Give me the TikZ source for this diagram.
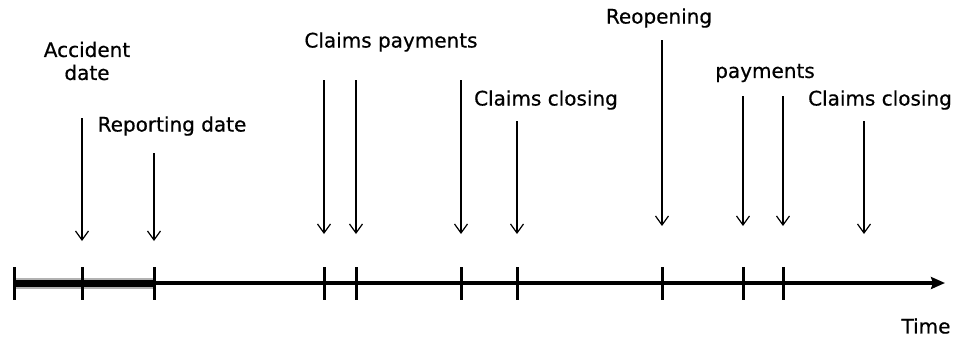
\documentclass[tikz,border=0pt]{standalone}
\usepackage{fontspec}
\setmainfont{DejaVu Sans}
\newfontfamily\lblfont{DejaVu Sans}[FakeBold=0.6]
\usetikzlibrary{arrows.meta}
\begin{document}
\begin{tikzpicture}[x=1pt,y=-1pt,
  lbl/.style={inner sep=0pt,font=\lblfont\fontsize{20}{24}\selectfont,align=center},
  evarrow/.style={draw,line width=1.2pt,-{Straight Barb[length=9pt,width=13pt,line width=1.2pt]}},
  tickmark/.style={draw,line width=3pt},
  axis/.style={draw,line width=3.8pt,-{Stealth[length=14pt,width=12pt,inset=2pt]}}]
\useasboundingbox (0,0) rectangle (954,338);
% timeline
\coordinate (t0) at (14,283);
\coordinate (tend) at (945,283);
\fill[gray!60] (14,278) rectangle (154,289);
\draw[line width=7pt] (14,283.5) -- (154,283.5);
\path[axis] (t0) -- (tend);
% ticks
\foreach \n/\x in {a/14,b/82,c/154,d/324,e/356,f/461,g/517,h/662,i/743,j/783}{
  \coordinate (tk\n u) at (\x,267);
  \coordinate (tk\n d) at (\x,300);
  \path[tickmark] (tk\n u) -- (tk\n d);
}
% labels
\node[lbl] (acc) at (87,61) {Accident\\[-1pt]date};
\node[lbl] (rep) at (172,126) {Reporting date};
\node[lbl] (cpay) at (391,42) {Claims payments};
\node[lbl] (cclo1) at (546,100) {Claims closing};
\node[lbl] (reop) at (659,18) {Reopening};
\node[lbl] (pay) at (765,73) {payments};
\node[lbl] (cclo2) at (880,100) {Claims closing};
\node[lbl] (time) at (926,326) {Time};
% arrows
\foreach \n/\x/\ya/\yb in {a1/82/118/241,a2/154/153/241,a3/324/80/234,a4/356/80/234,a5/461/80/234,a6/517/121/234,a7/662/40/226,a8/743/96/226,a9/783/96/226,a10/864/121/234}{
  \coordinate (\n s) at (\x,\ya);
  \coordinate (\n e) at (\x,\yb);
  \path[evarrow] (\n s) -- (\n e);
}
\end{tikzpicture}
\end{document}
